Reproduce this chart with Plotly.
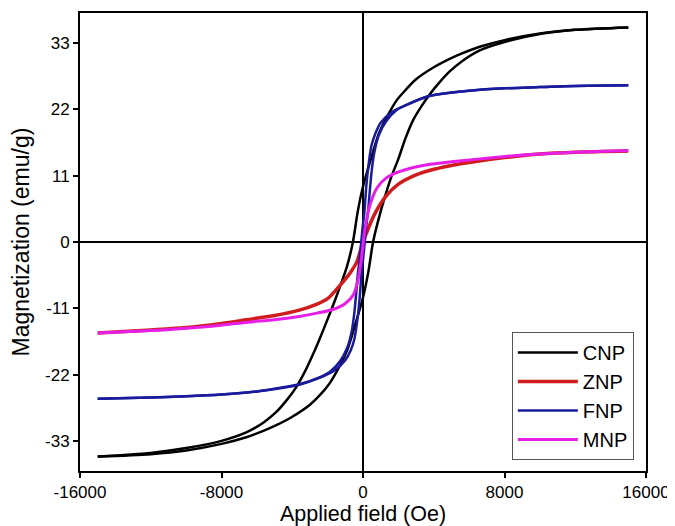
import plotly.graph_objects as go

# ---------------- data (Applied field in Oe, magnetization in emu/g) ----------------
series_names = ["CNP", "ZNP", "FNP", "MNP"]

# CNP: descending branch (+H -> -H)
cnp_desc_h = [15000, 12000, 10000, 8000, 6600, 5600, 4900, 4000, 3000, 2400, 1900, 1400, 900, 400, 0, -300, -570,
              -900, -1250, -1600, -2000, -2440, -2850, -3300, -3800, -4300, -4900, -5600, -6600, -8000, -10000, -12000, -15000]
cnp_desc_m = [35.6, 35.2, 34.6, 33.5, 32.4, 31.3, 30.4, 29.0, 27.0, 25.2, 23.5, 21.0, 18.0, 13.3, 9.2, 5.0, 0.0,
              -4.0, -7.0, -9.8, -12.8, -16.0, -18.8, -21.6, -24.2, -26.2, -28.2, -29.9, -31.6, -33.0, -34.2, -35.0, -35.6]
# CNP: ascending branch (-H -> +H)
cnp_asc_h = [-15000, -12000, -10000, -8000, -6600, -5600, -4900, -4000, -3000, -2400, -1900, -1400, -900, -400, 0, 300, 570,
             900, 1250, 1600, 2000, 2400, 2850, 3300, 3800, 4300, 4900, 5600, 6600, 8000, 10000, 12000, 15000]
cnp_asc_m = [-35.6, -35.2, -34.6, -33.5, -32.4, -31.3, -30.4, -29.0, -27.0, -25.3, -23.5, -21.0, -18.0, -13.3, -9.2, -5.0, 0.0,
             4.0, 7.6, 10.8, 13.8, 17.2, 20.3, 22.5, 24.6, 26.4, 28.3, 30.0, 31.8, 33.2, 34.5, 35.2, 35.6]

# ZNP: practically closed curve
znp_h = [-15000, -12000, -10000, -8000, -6600, -5000, -3600, -2600, -2000, -1300, -700, -350, 0,
         200, 600, 1300, 2000, 2800, 3800, 5000, 6000, 8000, 10000, 12000, 15000]
znp_m = [-15.1, -14.6, -14.2, -13.5, -12.9, -12.2, -11.3, -10.3, -9.4, -7.2, -5.0, -3.3, 0.0,
         1.5, 4.3, 7.6, 9.6, 10.9, 11.9, 12.7, 13.2, 14.0, 14.6, 14.9, 15.1]

# FNP: descending branch
fnp_desc_h = [15000, 12000, 10000, 8000, 6000, 4500, 3600, 2500, 1700, 1000, 700, 480, 300, 180, 80, 0, -100,
              -200, -300, -400, -500, -650, -900, -1300, -1900, -2500, -3600, -4500, -6000, -8000, -10000, -12000, -15000]
fnp_desc_m = [26.0, 25.9, 25.7, 25.5, 25.1, 24.6, 24.1, 22.8, 21.7, 19.8, 18.0, 16.0, 12.5, 9.0, 5.0, 3.0, 0.0,
              -3.0, -5.5, -9.0, -12.0, -15.0, -17.6, -19.8, -21.6, -22.5, -23.6, -24.1, -24.8, -25.3, -25.6, -25.8, -26.0]
# FNP: ascending branch
fnp_asc_h = [-15000, -12000, -10000, -8000, -6000, -4500, -3600, -2500, -1700, -1000, -700, -480, -300, -180, -80, 0, 100,
             200, 300, 400, 500, 650, 900, 1300, 1900, 2500, 3600, 4500, 6000, 8000, 10000, 12000, 15000]
fnp_asc_m = [-26.0, -25.8, -25.6, -25.3, -24.8, -24.2, -23.7, -22.6, -21.5, -19.6, -18.0, -16.0, -12.5, -9.0, -5.0, -3.0, 0.0,
             3.0, 5.5, 9.0, 12.0, 15.0, 17.8, 20.0, 21.9, 22.8, 24.1, 24.6, 25.1, 25.5, 25.7, 25.9, 26.0]

# MNP: practically closed curve
mnp_h = [-15000, -12000, -10000, -8000, -6500, -5000, -3700, -2600, -1700, -1000, -550, -300, -100, 0,
         100, 400, 800, 1300, 1800, 2300, 2900, 3800, 5000, 6000, 8000, 10000, 12000, 15000]
mnp_m = [-15.1, -14.7, -14.3, -13.8, -13.3, -12.9, -12.4, -11.8, -11.2, -10.2, -8.8, -6.5, -3.0, -0.5,
         2.0, 6.2, 9.0, 10.6, 11.4, 11.9, 12.4, 12.9, 13.3, 13.6, 14.2, 14.6, 14.9, 15.2]

x_tick_vals = [-16000, -8000, 0, 8000, 16000]
y_tick_vals = [-33, -22, -11, 0, 11, 22, 33]
x_title = "Applied field (Oe)"
y_title = "Magnetization (emu/g)"

colors = {"CNP": "#000000", "ZNP": "#d01c1c", "FNP": "#1a1a9c", "MNP": "#e61ee6"}
widths = {"CNP": 2.5, "ZNP": 3.5, "FNP": 2.5, "MNP": 3.0}

def loop(h1, m1, h2, m2):
    return list(h1) + [None] + list(h2), list(m1) + [None] + list(m2)

curves = {
    "CNP": loop(cnp_desc_h, cnp_desc_m, cnp_asc_h, cnp_asc_m),
    "ZNP": (znp_h, znp_m),
    "FNP": loop(fnp_desc_h, fnp_desc_m, fnp_asc_h, fnp_asc_m),
    "MNP": (mnp_h, mnp_m),
}

fig = go.Figure()
for name in series_names:
    hx, my = curves[name]
    fig.add_trace(go.Scatter(
        x=hx, y=my, name=name, mode="lines", connectgaps=False,
        line=dict(color=colors[name], width=widths[name], shape="spline", smoothing=0.8),
    ))

font_family = "Liberation Sans, Arial, sans-serif"
axis_common = dict(
    showgrid=False, zeroline=True, zerolinecolor="#000000", zerolinewidth=1.5,
    showline=True, linecolor="#000000", linewidth=2, mirror=True,
    ticks="outside", ticklen=5, tickwidth=2, tickcolor="#000000",
    tickfont=dict(family=font_family, size=17, color="#000000"),
    automargin=False,
)

# the page body has an 8px default margin, so the figure is sized to end at the window edge
fig.update_layout(
    width=667, height=518,
    margin=dict(l=72, r=29, t=5, b=55),
    paper_bgcolor="white", plot_bgcolor="white",
    font=dict(family=font_family, color="#000000"),
    showlegend=True,
    legend=dict(
        x=0.763, y=0.3035, xanchor="left", yanchor="top",
        bgcolor="white", bordercolor="#555555", borderwidth=1,
        font=dict(family=font_family, size=20, color="#000000"),
        itemwidth=60, tracegroupgap=0,
    ),
    xaxis=dict(range=[-16000, 16000], tickvals=x_tick_vals,
               ticktext=[str(v) for v in x_tick_vals], **axis_common),
    yaxis=dict(range=[-38, 38], tickvals=y_tick_vals,
               ticktext=[str(v) for v in y_tick_vals], **axis_common),
    annotations=[
        dict(text=x_title, xref="paper", yref="paper", x=0.5, y=-0.0939,
             xanchor="center", yanchor="middle", showarrow=False,
             font=dict(family=font_family, size=21.5, color="#000000")),
        dict(text=y_title, xref="paper", yref="paper", x=-0.1034, y=0.5,
             xanchor="center", yanchor="middle", textangle=-90, showarrow=False,
             font=dict(family=font_family, size=23, color="#000000")),
    ],
)

fig.write_html("out.html")
